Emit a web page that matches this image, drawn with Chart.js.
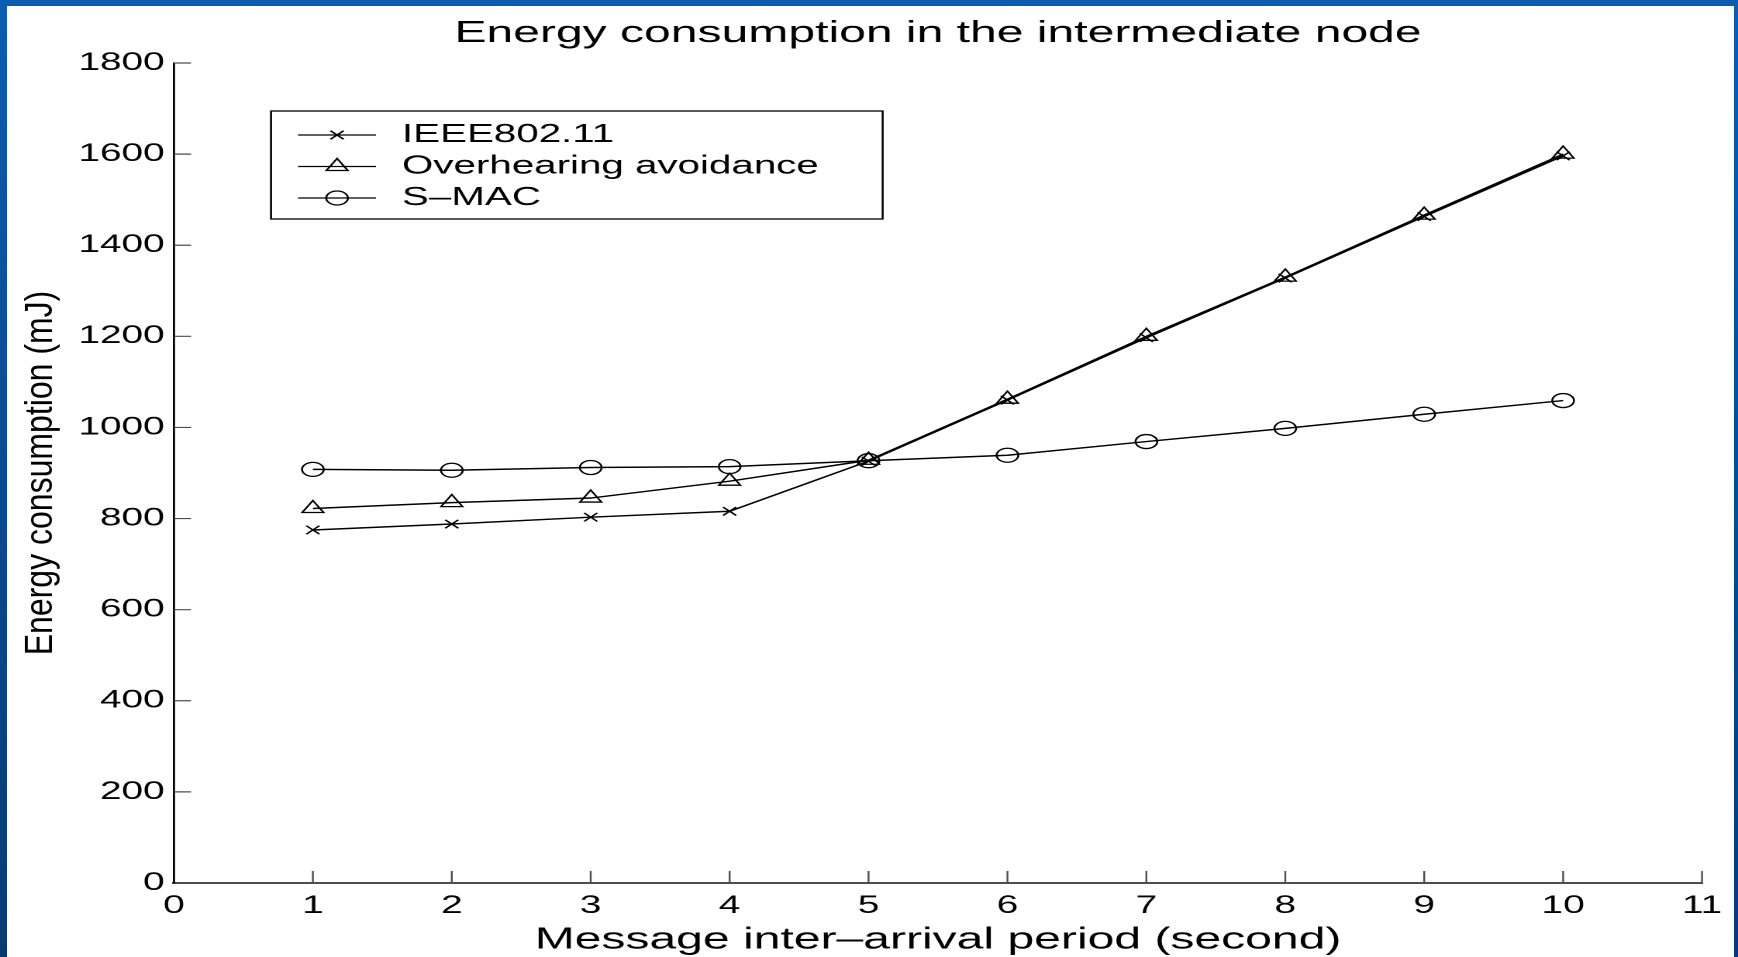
<!DOCTYPE html>
<html>
<head>
<meta charset="utf-8">
<script src="https://cdn.jsdelivr.net/npm/chart.js@4.4.0/dist/chart.umd.min.js"></script>
<style>
    html, body { margin: 0; padding: 0; width: 1738px; height: 957px; overflow: hidden; }
    body { background: linear-gradient(to bottom, #0b5cb3, #063a74); position: relative; }
    #paper { position: absolute; left: 7px; top: 6px; right: 4px; bottom: 0; background: #fff; }
    /* the source figure is a horizontally stretched slide image */
    #wrap { position: absolute; left: 0; top: 0; width: 1121px; height: 975px; transform-origin: 0 0; }
</style>
</head>
<body>
<div id="paper"></div>
<div id="wrap"><canvas id="energyChart"></canvas></div>
<script>
const STRETCH = 1738 / 1121;

// message inter-arrival period (s)
const periods = [1, 2, 3, 4, 5, 6, 7, 8, 9, 10];
// energy consumption (mJ)
const ieee80211 = [775, 788, 803, 816, 926, 1060, 1197, 1328, 1463, 1596];
const overhearing = [822, 835, 845, 882, 928, 1062, 1200, 1330, 1466, 1600];
const smac = [908, 906, 912, 914, 927, 939, 969, 998, 1029, 1059];
const seriesNames = ['IEEE802.11', 'Overhearing avoidance', 'S–MAC'];

const FONT = '"Liberation Sans", Arial, Helvetica, sans-serif';
document.getElementById('wrap').style.transform = 'scaleX(' + STRETCH + ')';
Chart.defaults.font.family = FONT;
Chart.defaults.color = '#000';

function points(values) {
    return periods.map((p, i) => ({ x: p, y: values[i] }));
}

function series(label, values, style, radius) {
    return {
        label: label,
        data: points(values),
        borderColor: '#000',
        borderWidth: 1.5,
        pointStyle: style,
        pointRadius: radius,
        pointBorderWidth: 1.3,
        pointBorderColor: '#000',
        pointBackgroundColor: 'rgba(0,0,0,0)',
        tension: 0
    };
}

// matlab style tick marks, pointing into the plot
const insideTicks = {
    id: 'insideTicks',
    afterDraw(chart) {
        const { ctx, chartArea, scales: { x, y } } = chart;
        ctx.save();
        ctx.strokeStyle = '#4d4d4d';
        ctx.lineWidth = 1.2;
        ctx.beginPath();
        y.ticks.forEach(t => {
            if (t.value === 0) return;
            const py = y.getPixelForValue(t.value);
            ctx.moveTo(chartArea.left, py);
            ctx.lineTo(chartArea.left + 11, py);
        });
        x.ticks.forEach(t => {
            if (t.value === 0) return;
            const px = x.getPixelForValue(t.value);
            ctx.moveTo(px, chartArea.bottom);
            ctx.lineTo(px, chartArea.bottom - 12);
        });
        ctx.stroke();
        ctx.restore();
    }
};

// boxed legend inside the axes
const boxLegend = {
    id: 'boxLegend',
    afterDraw(chart) {
        const ctx = chart.ctx;
        const left = chart.chartArea.left + 62.6;
        ctx.save();
        ctx.strokeStyle = '#000';
        ctx.lineWidth = 1.3;
        ctx.strokeRect(left, 111, 394.5, 108);
        chart.data.datasets.forEach((ds, i) => {
            const rowY = 135 + i * 31.5;
            ctx.strokeStyle = '#000';
            ctx.lineWidth = 1.3;
            ctx.beginPath();
            ctx.moveTo(left + 17.4, rowY);
            ctx.lineTo(left + 67.7, rowY);
            ctx.stroke();
            ctx.fillStyle = 'rgba(0,0,0,0)';
            Chart.helpers.drawPoint(ctx, {
                pointStyle: ds.pointStyle, radius: ds.pointRadius, borderWidth: 1.3, rotation: 0
            }, left + 42.6, rowY);
            ctx.fillStyle = '#000';
            ctx.font = '26px ' + FONT;
            ctx.textAlign = 'left';
            ctx.textBaseline = 'middle';
            ctx.fillText(ds.label, left + 84.5, rowY);
        });
        ctx.restore();
    }
};

// rotated y title, drawn with its own horizontal scale
const yTitle = {
    id: 'yTitle',
    afterDraw(chart) {
        const ctx = chart.ctx;
        ctx.save();
        ctx.translate(52 / STRETCH, 473);
        ctx.scale(1.2 / STRETCH, 1);
        ctx.rotate(-Math.PI / 2);
        ctx.font = '32px ' + FONT;
        ctx.fillStyle = '#000';
        ctx.textAlign = 'center';
        ctx.textBaseline = 'alphabetic';
        ctx.fillText('Energy consumption (mJ)', 0, 0);
        ctx.restore();
    }
};

new Chart(document.getElementById('energyChart'), {
    type: 'line',
    data: {
        datasets: [
            series(seriesNames[0], ieee80211, 'crossRot', 6),
            series(seriesNames[1], overhearing, 'triangle', 8),
            series(seriesNames[2], smac, 'circle', 7)
        ]
    },
    options: {
        responsive: true,
        maintainAspectRatio: false,
        animation: false,
        devicePixelRatio: 2,
        events: [],
        layout: { padding: { left: 0, right: 23.2, top: 0, bottom: 0 } },
        plugins: {
            legend: { display: false },
            tooltip: { enabled: false },
            title: {
                display: true,
                fullSize: false,
                text: 'Energy consumption in the intermediate node',
                color: '#000',
                font: { size: 31, weight: 'normal' },
                padding: { top: 15, bottom: 10.8 }
            }
        },
        scales: {
            x: {
                type: 'linear',
                min: 0,
                max: 11,
                afterFit: s => { s.height = 92; },
                grid: { display: false, drawTicks: false },
                border: { display: true, color: '#4d4d4d', width: 2 },
                ticks: { stepSize: 1, padding: 8, color: '#000', font: { size: 25 } },
                title: {
                    display: true,
                    text: 'Message inter–arrival period (second)',
                    color: '#000',
                    font: { size: 31 },
                    padding: { top: 0, bottom: 16.4 }
                }
            },
            y: {
                min: 0,
                max: 1800,
                afterFit: s => { s.width = 112.2; },
                grid: { display: false, drawTicks: false },
                border: { display: true, color: '#000', width: 1.4 },
                ticks: {
                    stepSize: 200,
                    padding: 6,
                    color: '#000',
                    font: { size: 25 },
                    callback: v => String(v)
                }
            }
        }
    },
    plugins: [insideTicks, boxLegend, yTitle]
});
</script>
</body>
</html>
